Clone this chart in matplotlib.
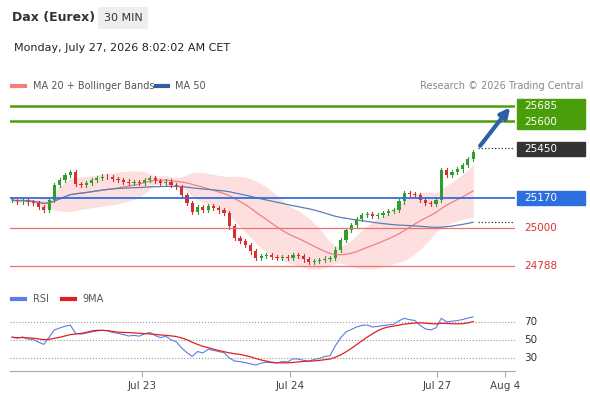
import numpy as np, pandas as pd
import matplotlib
matplotlib.use("Agg")
import matplotlib.pyplot as plt
from matplotlib.patches import Rectangle

closes = [25158,25150,25160,25145,25141,25120,25102,25158,25242,25270,25298,25315,25250,25242,25255,25270,
25281,25290,25287,25275,25270,25262,25253,25258,25253,25270,25281,25265,25253,25262,25242,25230,25186,25140,
25091,25120,25102,25125,25113,25100,25085,25010,24945,24930,24906,24870,24833,24845,24850,24838,24833,24840,
24833,24848,24844,24825,24810,24818,24822,24830,24833,24880,24934,24990,25018,25050,25074,25080,25068,25075,
25085,25095,25102,25150,25197,25190,25186,25160,25141,25135,25158,25326,25300,25315,25330,25354,25390,25427]
date_ticks = [24.5, 52.5, 80.2, 93]
date_labels = ["Jul 23", "Jul 24", "Jul 27", "Aug 4"]
levels = [25685, 25600, 25450, 25170, 25000, 24788]

W, H = 590, 400
fig = plt.figure(figsize=(5.9, 4.0), dpi=100)
def rect(x0, y0, x1, y1):
    return [x0/W, 1-y1/H, (x1-x0)/W, (y1-y0)/H]

c = pd.Series(closes, dtype=float)
n = len(c)
idx = np.arange(n)
ma20 = c.rolling(20, min_periods=1).mean()
sd = c.rolling(20, min_periods=5).std().bfill()
up, lo = ma20 + 1.3*sd, ma20 - 1.3*sd
ma50 = c.rolling(50, min_periods=1).mean()

ax = fig.add_axes(rect(10, 90, 515, 278))
ax.set_xlim(-0.38, 94.9); ax.set_ylim(24721, 25775)
ax.axis('off')
ax.fill_between(idx, lo, up, color='#fdd8d8', alpha=0.8, lw=0)
ax.plot(idx, ma20, color='#f08080', lw=0.9)
ax.plot(idx, ma50, color='#5b7fb5', lw=0.9)
opens = [closes[0]] + closes[:-1]
for i in range(n):
    o, cl = opens[i], closes[i]
    col = '#2e9e2e' if cl >= o else '#d62f2f'
    hi, lw_ = max(o, cl) + 12, min(o, cl) - 12
    ax.plot([i, i], [lw_, hi], color=col, lw=0.8)
    ax.add_patch(Rectangle((i-0.3, min(o, cl)), 0.6, max(abs(cl-o), 2), color=col, lw=0))
ax.axhline(25685, color='#4a9e0a', lw=1.8)
ax.axhline(25600, color='#4a9e0a', lw=1.8)
ax.axhline(25170, color='#2e6fe0', lw=1.3)
ax.axhline(25000, color='#f07070', lw=0.9)
ax.axhline(24788, color='#f07070', lw=0.9)
ax.plot([88, 94.9], [25450, 25450], ls=':', color='#333', lw=0.9)
ax.plot([88, 94.9], [ma50.iloc[-1], ma50.iloc[-1]], ls=':', color='#333', lw=0.9)
ax.annotate('', xy=(94.3, 25690), xytext=(88, 25450),
            arrowprops=dict(arrowstyle='-|>', color='#2f5fa8', lw=3, mutation_scale=14))

def box(y0, y1, col):
    fig.patches.append(Rectangle((517/W, 1-y1/H), 68/W, (y1-y0)/H, color=col, transform=fig.transFigure))
box(99, 129, '#4a9e0a'); box(142, 156, '#333333'); box(191, 205, '#2e6fe0')
for y, t, col in [(106, '25685', 'white'), (122, '25600', 'white'), (149, '25450', 'white'),
                  (198, '25170', 'white'), (228, '25000', '#e03030'), (266, '24788', '#e03030')]:
    fig.text(524/W, 1-y/H, t, color=col, fontsize=7.5, va='center')

# RSI (Wilder, seeded)
d = c.diff().fillna(0).values
g, l = 14.0, 12.0
rsi = []
for v in d:
    g = (g*13 + max(v, 0))/14
    l = (l*13 + max(-v, 0))/14
    rsi.append(100 - 100/(1 + g/l))
rsi = 50 + 0.8*(pd.Series(rsi) - 50)
rma = rsi.rolling(9, min_periods=1).mean()
ax2 = fig.add_axes(rect(10, 310, 515, 368))
ax2.set_xlim(-0.38, 94.9); ax2.set_ylim(18.9, 83.3)
ax2.axis('off')
for v in [70, 50, 30]:
    ax2.axhline(v, color='#999', ls=':', lw=0.8)
    fig.text(524/W, 1-(322+(70-v)*0.9)/H, str(v), fontsize=7.5, color='#333', va='center')
ax2.plot(idx, rsi, color='#5b7fe0', lw=0.8)
ax2.plot(idx, rma, color='#e02020', lw=0.9)

ax3 = fig.add_axes(rect(10, 370, 515, 371))
ax3.set_xlim(-0.38, 94.9)
ax3.set_yticks([])
for s in ['top', 'left', 'right']: ax3.spines[s].set_visible(False)
ax3.spines['bottom'].set_color('#aaa')
ax3.set_xticks(date_ticks); ax3.set_xticklabels(date_labels, fontsize=7.5, color='#444')
ax3.tick_params(axis='x', length=4, color='#aaa', pad=3)

fig.text(12/W, 1-18/H, 'Dax (Eurex)', fontsize=9, fontweight='bold', color='#333', va='center')
fig.text(104/W, 1-18/H, '30 MIN', fontsize=8, color='#333', va='center',
         bbox=dict(boxstyle='square,pad=0.5', fc='#eeeeee', ec='none'))
fig.text(14/W, 1-48/H, 'Monday, July 27, 2026 8:02:02 AM CET', fontsize=8, color='#222', va='center')
fig.lines.append(plt.Line2D([12/W, 25/W], [1-86/H]*2, color='#f08080', lw=3, transform=fig.transFigure))
fig.text(33/W, 1-86/H, 'MA 20 + Bollinger Bands', fontsize=7, color='#555', va='center')
fig.lines.append(plt.Line2D([156/W, 168/W], [1-86/H]*2, color='#2f5fa8', lw=3, transform=fig.transFigure))
fig.text(175/W, 1-86/H, 'MA 50', fontsize=7, color='#555', va='center')
fig.text(583/W, 1-86/H, 'Research © 2026 Trading Central', fontsize=7, color='#888', va='center', ha='right')
fig.lines.append(plt.Line2D([12/W, 25/W], [1-299/H]*2, color='#5b7fe0', lw=3, transform=fig.transFigure))
fig.text(33/W, 1-299/H, 'RSI', fontsize=7, color='#555', va='center')
fig.lines.append(plt.Line2D([62/W, 75/W], [1-299/H]*2, color='#e02020', lw=3, transform=fig.transFigure))
fig.text(82/W, 1-299/H, '9MA', fontsize=7, color='#555', va='center')

fig.savefig('out.png', dpi=100)
